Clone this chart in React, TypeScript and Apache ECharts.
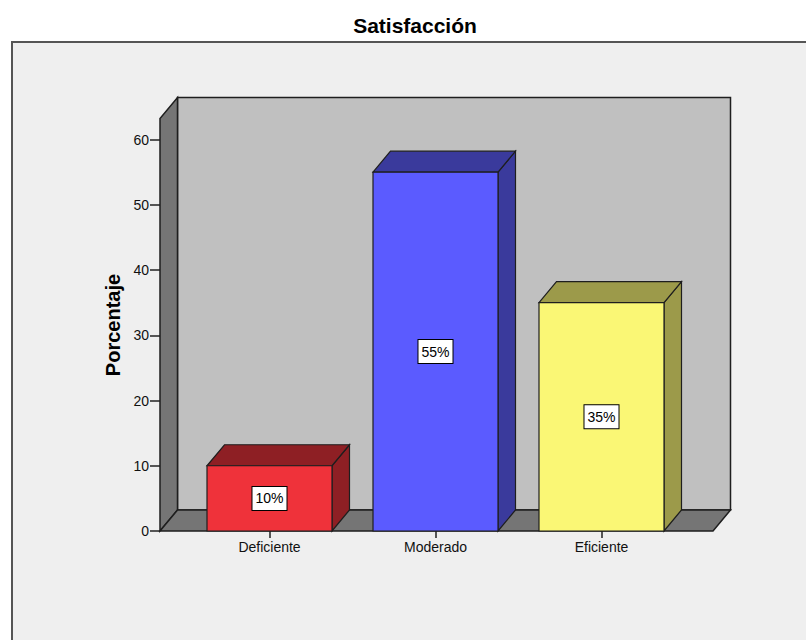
import React, { useEffect, useRef } from "react";
import * as echarts from "echarts";

// ---- data ----
const title = "Satisfacción";
const yAxisTitle = "Porcentaje";
const categories = ["Deficiente", "Moderado", "Eficiente"];
const percentages = [10, 55, 35];
const yTicks = { min: 0, max: 60, interval: 10 };

// ---- styles ----
const frontColors = ["#ef323a", "#5b5bff", "#faf775"];
const darkColors = ["#8e1f24", "#3a3a9c", "#9c9a4a"];
const FONT = "'Liberation Sans', Arial, sans-serif";
const DX = 17.5;
const DY = -21;
const WALL_TOP_VALUE = 63.2;
const EDGE = "#1e1e1e";

export default function App() {
  const ref = useRef<HTMLDivElement>(null);
  useEffect(() => {
    if (!ref.current) return;
    const chart = echarts.init(ref.current, undefined, { renderer: "svg" });

    const wallSeries = {
      type: "custom",
      z: 1,
      silent: true,
      data: [[0, 0]],
      renderItem: (params: any, api: any) => {
        const cs = params.coordSys;
        const L = cs.x - 26.5;
        const R = cs.x + cs.width + 28.5;
        const y0 = api.coord([0, 0])[1];
        const yT = api.coord([0, WALL_TOP_VALUE])[1];
        const stroke = { stroke: EDGE, lineWidth: 1.5 };
        return {
          type: "group",
          children: [
            {
              type: "rect",
              shape: { x: L + DX, y: yT + DY, width: R - L, height: y0 - yT },
              style: { fill: "#c0c0c0", ...stroke },
            },
            {
              type: "polygon",
              shape: {
                points: [
                  [L, y0],
                  [L, yT],
                  [L + DX, yT + DY],
                  [L + DX, y0 + DY],
                ],
              },
              style: { fill: "#757575", ...stroke },
            },
            {
              type: "polygon",
              shape: {
                points: [
                  [L, y0],
                  [L + DX, y0 + DY],
                  [R + DX, y0 + DY],
                  [R, y0],
                ],
              },
              style: { fill: "#757575", ...stroke },
            },
          ],
        };
      },
    };

    const barSeries = {
      type: "custom",
      z: 5,
      data: categories.map((c, i) => [c, percentages[i]]),
      renderItem: (params: any, api: any) => {
        const i = params.dataIndex;
        const v = api.value(1);
        const top = api.coord([i, v]);
        const bottom = api.coord([i, 0]);
        const band = api.size([1, 0])[0];
        const w = band * (125 / 166);
        const x0 = top[0] - w / 2;
        const x1 = top[0] + w / 2;
        const yt = top[1];
        const yb = bottom[1];
        const stroke = { stroke: EDGE, lineWidth: 1.2 };
        return {
          type: "group",
          children: [
            {
              type: "polygon",
              shape: {
                points: [
                  [x1, yt],
                  [x1 + DX, yt + DY],
                  [x1 + DX, yb + DY],
                  [x1, yb],
                ],
              },
              style: { fill: darkColors[i], ...stroke },
            },
            {
              type: "polygon",
              shape: {
                points: [
                  [x0, yt],
                  [x0 + DX, yt + DY],
                  [x1 + DX, yt + DY],
                  [x1, yt],
                ],
              },
              style: { fill: darkColors[i], ...stroke },
            },
            {
              type: "rect",
              shape: { x: x0, y: yt, width: w, height: yb - yt },
              style: { fill: frontColors[i], ...stroke },
            },
            {
              type: "text",
              x: top[0],
              y: (yt + yb) / 2,
              z2: 10,
              style: {
                text: `${v}%`,
                fontFamily: FONT,
                fontSize: 14,
                fill: "#000",
                align: "center",
                verticalAlign: "middle",
                backgroundColor: "#ffffff",
                borderColor: "#000",
                borderWidth: 1,
                padding: [4, 3, 3, 3],
                lineHeight: 16,
              },
            },
          ],
        };
      },
    };

    chart.setOption({
      animation: false,
      backgroundColor: "#ffffff",
      grid: { left: 186.5, top: 139.5, width: 498, height: 391.5 },
      xAxis: {
        type: "category",
        data: categories,
        axisLine: { show: false },
        axisTick: {
          show: true,
          alignWithLabel: true,
          length: 7,
          lineStyle: { color: "#222", width: 1.5 },
        },
        axisLabel: { margin: 9, fontFamily: FONT, fontSize: 14, color: "#111" },
        splitLine: { show: false },
      },
      yAxis: {
        type: "value",
        min: yTicks.min,
        max: yTicks.max,
        interval: yTicks.interval,
        offset: 26.5,
        axisLine: { show: false },
        axisTick: { show: true, length: 10, lineStyle: { color: "#222", width: 1.5 } },
        axisLabel: { margin: 11, fontFamily: FONT, fontSize: 14, color: "#111" },
        splitLine: { show: false },
      },
      graphic: {
        elements: [
          {
            type: "rect",
            z: -10,
            shape: { x: 12, y: 42, width: 900, height: 700 },
            style: { fill: "#efefef", stroke: "#555", lineWidth: 2 },
          },
          {
            type: "text",
            x: 415,
            y: 25,
            style: {
              text: title,
              fontFamily: FONT,
              fontSize: 21,
              fontWeight: "bold",
              fill: "#000",
              align: "center",
              verticalAlign: "middle",
            },
          },
          {
            type: "text",
            x: 113,
            y: 325,
            rotation: Math.PI / 2,
            style: {
              text: yAxisTitle,
              fontFamily: FONT,
              fontSize: 20,
              fontWeight: "bold",
              fill: "#000",
              align: "center",
              verticalAlign: "middle",
            },
          },
        ],
      },
      series: [wallSeries, barSeries],
    });
    return () => chart.dispose();
  }, []);
  return (
    <div
      ref={ref}
      style={{ position: "fixed", left: 0, top: 0, width: 806, height: 640 }}
    />
  );
}
